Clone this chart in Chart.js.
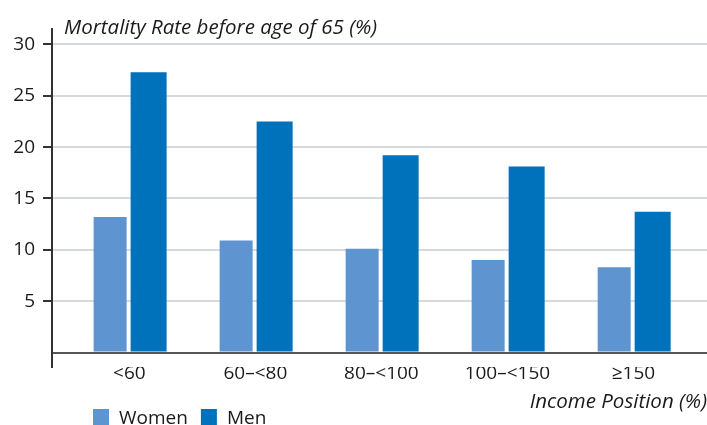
<!DOCTYPE html>
<html>
<head>
<meta charset="utf-8">
<script src="https://cdn.jsdelivr.net/npm/chart.js@4"></script>
<style>
  html, body { margin: 0; padding: 0; background: #fff; }
  #wrap { width: 707px; height: 425px; position: relative; }
</style>
</head>
<body>
<div id="wrap"><canvas id="c"></canvas></div>
<script>
const categories = ['<60', '60–<80', '80–<100', '100–<150', '≥150'];
const women = [13.2, 10.9, 10.1, 9.0, 8.3];
const men = [27.3, 22.5, 19.2, 18.1, 13.7];
const yTicks = [0, 5, 10, 15, 20, 25, 30];
const seriesNames = ['Women', 'Men'];
const seriesColors = ['#5E95D0', '#0071BB'];
const titleText = 'Mortality Rate before age of 65 (%)';
const xTitleText = 'Income Position (%)';

const FONT = "'Open Sans', 'Noto Sans', sans-serif";
const TXT = '#1a1a1a';

const overlayText = {
  id: 'overlayText',
  afterDraw(chart) {
    const ctx = chart.ctx;
    ctx.save();
    ctx.fillStyle = TXT;
    ctx.textBaseline = 'alphabetic';
    ctx.textAlign = 'left';
    ctx.font = "italic 20.5px " + FONT;
    ctx.fillText(titleText, 64, 34);
    // legend
    ctx.font = "19px " + FONT;
    let x = 93;
    chart.data.datasets.forEach((ds) => {
      ctx.fillStyle = ds.backgroundColor;
      ctx.fillRect(x, 409, 16, 16);
      ctx.fillStyle = TXT;
      ctx.fillText(ds.label, x + 26, 424);
      x += 26 + ctx.measureText(ds.label).width + 13;
    });
    ctx.restore();
  }
};

new Chart(document.getElementById('c'), {
  type: 'bar',
  data: {
    datasets: [
      {
        label: seriesNames[0],
        data: women.map((v, i) => ({ x: i, y: v })),
        backgroundColor: seriesColors[0],
        categoryPercentage: 0.611,
        barPercentage: 0.857
      },
      {
        label: seriesNames[1],
        data: men.map((v, i) => ({ x: i, y: v })),
        backgroundColor: seriesColors[1],
        categoryPercentage: 0.611,
        barPercentage: 0.935
      }
    ]
  },
  options: {
    responsive: true,
    maintainAspectRatio: false,
    animation: false,
    layout: { padding: { top: 29, right: 0, bottom: 11, left: 0 } },
    plugins: {
      legend: { display: false },
      tooltip: { enabled: false },
      title: { display: false }
    },
    scales: {
      x: {
        type: 'linear',
        offset: false,
        min: -0.614,
        max: 4.584,
        grid: { display: false, offset: false },
        border: { display: false },
        afterBuildTicks(scale) {
          scale.ticks = categories.map((_, i) => ({ value: i }));
        },
        ticks: {
          autoSkip: false,
          maxRotation: 0,
          padding: -13.1,
          color: TXT,
          font: { family: FONT, size: 19 },
          callback: (v) => categories[Math.round(v)]
        },
        title: {
          display: true,
          text: xTitleText,
          align: 'end',
          color: TXT,
          font: { family: FONT, size: 20.5, style: 'italic' },
          padding: { top: 17.9, bottom: 0 }
        }
      },
      y: {
        min: -1.4,
        max: 31.5,
        afterBuildTicks(scale) {
          scale.ticks = yTicks.map((v) => ({ value: v }));
        },
        afterFit(scale) { scale.width = 52; },
        border: { display: true, color: '#333', width: 2 },
        grid: {
          color: (c) => (c.tick && c.tick.value === 0 ? '#555' : '#d6d9dd'),
          lineWidth: 2,
          tickLength: 9,
          tickColor: (c) => (c.tick && c.tick.value === 0 ? 'rgba(0,0,0,0)' : '#333'),
          tickWidth: 2
        },
        ticks: {
          padding: 8,
          color: TXT,
          font: { family: FONT, size: 19 },
          callback: (v) => (v === 0 ? '' : String(v))
        }
      }
    }
  },
  plugins: [overlayText]
});
</script>
</body>
</html>
